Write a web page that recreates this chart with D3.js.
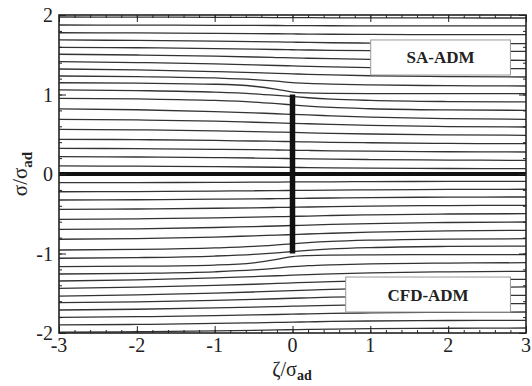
<!DOCTYPE html>
<html>
<head>
<meta charset="utf-8">
<script src="https://cdn.jsdelivr.net/npm/d3@7"></script>
<style>
  body { margin: 0; background: #fff; }
  svg { display: block; }
  svg text { font-family: "Liberation Serif", "Times New Roman", Times, serif; }
</style>
</head>
<body>
<div id="chart"></div>
<script>
var svgWidth = 532;
var svgHeight = 386;

// plot frame in pixels
var frame = { left: 59, right: 526, top: 15, bottom: 333 };

var xStations = [-3, -2, -1, -0.5, -0.2, 0, 0.2, 0.5, 1, 2, 3];

// upper half: SA-ADM streamlines (sigma/sigma_ad at each station)
var saLines = [
  [0.101, 0.098, 0.092, 0.088, 0.085, 0.083, 0.081, 0.078, 0.074, 0.069, 0.067],
  [0.218, 0.214, 0.206, 0.201, 0.197, 0.194, 0.191, 0.187, 0.182, 0.175, 0.172],
  [0.323, 0.319, 0.311, 0.306, 0.302, 0.299, 0.296, 0.292, 0.287, 0.280, 0.277],
  [0.436, 0.432, 0.422, 0.415, 0.411, 0.407, 0.404, 0.399, 0.393, 0.384, 0.381],
  [0.562, 0.556, 0.543, 0.533, 0.527, 0.523, 0.518, 0.512, 0.503, 0.491, 0.487],
  [0.688, 0.680, 0.664, 0.651, 0.643, 0.638, 0.632, 0.623, 0.611, 0.597, 0.591],
  [0.818, 0.808, 0.785, 0.769, 0.758, 0.750, 0.743, 0.731, 0.715, 0.696, 0.688],
  [0.952, 0.944, 0.925, 0.904, 0.884, 0.869, 0.854, 0.837, 0.821, 0.806, 0.801],
  [1.057, 1.049, 1.030, 1.009, 0.989, 0.974, 0.959, 0.942, 0.926, 0.911, 0.906],
  [1.148, 1.142, 1.129, 1.104, 1.065, 1.031, 1.020, 1.014, 1.011, 1.010, 1.010],
  [1.233, 1.225, 1.208, 1.188, 1.167, 1.150, 1.140, 1.130, 1.120, 1.111, 1.107],
  [1.321, 1.309, 1.289, 1.276, 1.266, 1.260, 1.254, 1.246, 1.236, 1.225, 1.220],
  [1.413, 1.402, 1.385, 1.373, 1.365, 1.360, 1.355, 1.348, 1.339, 1.329, 1.325],
  [1.506, 1.497, 1.482, 1.472, 1.465, 1.460, 1.456, 1.450, 1.442, 1.434, 1.430],
  [1.594, 1.588, 1.578, 1.571, 1.566, 1.563, 1.560, 1.556, 1.551, 1.546, 1.543],
  [1.686, 1.680, 1.671, 1.665, 1.661, 1.658, 1.655, 1.651, 1.647, 1.641, 1.639],
  [1.777, 1.774, 1.769, 1.766, 1.764, 1.762, 1.760, 1.758, 1.756, 1.753, 1.752],
  [1.874, 1.873, 1.870, 1.869, 1.868, 1.867, 1.866, 1.865, 1.864, 1.863, 1.862],
  [1.975, 1.973, 1.971, 1.969, 1.968, 1.967, 1.966, 1.965, 1.964, 1.963, 1.962]
];

// lower half: CFD-ADM streamlines
var cfdLines = [
  [-0.109, -0.108, -0.105, -0.103, -0.101, -0.100, -0.099, -0.098, -0.096, -0.093, -0.092],
  [-0.223, -0.221, -0.215, -0.211, -0.209, -0.207, -0.205, -0.202, -0.199, -0.194, -0.192],
  [-0.327, -0.324, -0.317, -0.313, -0.310, -0.307, -0.305, -0.302, -0.297, -0.291, -0.289],
  [-0.444, -0.440, -0.431, -0.425, -0.421, -0.418, -0.415, -0.410, -0.404, -0.397, -0.394],
  [-0.570, -0.564, -0.552, -0.543, -0.537, -0.533, -0.529, -0.522, -0.514, -0.503, -0.499],
  [-0.696, -0.689, -0.673, -0.661, -0.654, -0.648, -0.643, -0.634, -0.623, -0.610, -0.604],
  [-0.821, -0.812, -0.793, -0.778, -0.769, -0.762, -0.755, -0.745, -0.732, -0.715, -0.708],
  [-0.956, -0.949, -0.930, -0.911, -0.892, -0.878, -0.864, -0.848, -0.832, -0.818, -0.814],
  [-1.060, -1.052, -1.032, -1.011, -0.991, -0.975, -0.960, -0.943, -0.926, -0.911, -0.906],
  [-1.166, -1.160, -1.145, -1.118, -1.075, -1.038, -1.026, -1.020, -1.017, -1.015, -1.015],
  [-1.258, -1.249, -1.230, -1.207, -1.184, -1.164, -1.153, -1.142, -1.130, -1.120, -1.116],
  [-1.346, -1.331, -1.307, -1.291, -1.280, -1.273, -1.265, -1.256, -1.244, -1.230, -1.224],
  [-1.438, -1.424, -1.402, -1.387, -1.377, -1.370, -1.363, -1.354, -1.343, -1.331, -1.325],
  [-1.535, -1.521, -1.499, -1.484, -1.473, -1.467, -1.460, -1.451, -1.439, -1.427, -1.421],
  [-1.619, -1.608, -1.589, -1.577, -1.569, -1.563, -1.558, -1.550, -1.541, -1.531, -1.526],
  [-1.711, -1.701, -1.685, -1.675, -1.668, -1.663, -1.658, -1.652, -1.644, -1.635, -1.631],
  [-1.803, -1.795, -1.782, -1.773, -1.767, -1.763, -1.759, -1.753, -1.747, -1.739, -1.736],
  [-1.899, -1.892, -1.880, -1.872, -1.867, -1.864, -1.860, -1.855, -1.849, -1.843, -1.840],
  [-1.990, -1.984, -1.973, -1.966, -1.961, -1.958, -1.955, -1.951, -1.945, -1.940, -1.937]
];

// actuator disc and the symmetry line
var discX = [0, 0];
var discY = [-1, 1];
var axisLineX = [-3, 3];
var axisLineY = [0, 0];

var xTicks = [-3, -2, -1, 0, 1, 2, 3];
var yTicks = [-2, -1, 0, 1, 2];
var xMinorTicks = d3.range(-3, 3.001, 0.2);
var yMinorTicks = d3.range(-2, 2.001, 0.2);

// legend labels with their box corners in data units
var legendLabels = ["SA-ADM", "CFD-ADM"];
var legendBoxes = [[1.005, 2.80, 1.686, 1.245], [0.684, 2.80, -1.296, -1.736]];

var fontFamily = "'Liberation Serif', 'Times New Roman', Times, serif";

var svg = d3.select("#chart").append("svg")
  .attr("width", svgWidth)
  .attr("height", svgHeight)
  .attr("font-family", fontFamily);

var x = d3.scaleLinear().domain([-3, 3]).range([frame.left, frame.right]);
var y = d3.scaleLinear().domain([-2, 2]).range([frame.bottom, frame.top]);

svg.append("defs").append("clipPath")
  .attr("id", "plotClip")
  .append("rect")
  .attr("x", frame.left)
  .attr("y", frame.top)
  .attr("width", frame.right - frame.left)
  .attr("height", frame.bottom - frame.top);

var plot = svg.append("g").attr("clip-path", "url(#plotClip)");

var line = d3.line()
  .x(function(d, i) { return x(xStations[i]); })
  .y(function(d) { return y(d); })
  .curve(d3.curveMonotoneX);

// streamlines
plot.selectAll("path.stream")
  .data(saLines.concat(cfdLines))
  .enter()
  .append("path")
  .attr("class", "stream")
  .attr("d", line)
  .attr("fill", "none")
  .attr("stroke", "#333")
  .attr("stroke-width", 1.3);

// symmetry line and disc
plot.append("line")
  .attr("x1", x(axisLineX[0])).attr("x2", x(axisLineX[1]))
  .attr("y1", y(axisLineY[0])).attr("y2", y(axisLineY[1]))
  .attr("stroke", "#111")
  .attr("stroke-width", 4);

plot.append("line")
  .attr("x1", x(discX[0])).attr("x2", x(discX[1]))
  .attr("y1", y(discY[0])).attr("y2", y(discY[1]))
  .attr("stroke", "#111")
  .attr("stroke-width", 5.5);

// legend boxes
legendBoxes.forEach(function(b, i) {
  plot.append("rect")
    .attr("x", x(b[0]))
    .attr("y", y(b[2]))
    .attr("width", x(b[1]) - x(b[0]))
    .attr("height", y(b[3]) - y(b[2]))
    .attr("fill", "#fff")
    .attr("stroke", "#999")
    .attr("stroke-width", 1);
  svg.append("text")
    .attr("x", (x(b[0]) + x(b[1])) / 2)
    .attr("y", (y(b[2]) + y(b[3])) / 2 + 6)
    .attr("text-anchor", "middle")
    .attr("font-family", fontFamily)
    .attr("font-size", 17)
    .attr("font-weight", "bold")
    .attr("fill", "#222")
    .text(legendLabels[i]);
});

// axes: inward ticks on all four sides
var axisColor = "#222";
function addAxis(axisGen, transform, ticks, size) {
  svg.append("g")
    .attr("transform", transform)
    .call(axisGen.tickValues(ticks).tickSize(size).tickFormat(""))
    .call(function(g) { g.select(".domain").remove(); })
    .selectAll("line").attr("stroke", axisColor).attr("stroke-width", 1);
}
addAxis(d3.axisTop(x), "translate(0," + frame.bottom + ")", xMinorTicks, 3);
addAxis(d3.axisTop(x), "translate(0," + frame.bottom + ")", xTicks, 7);
addAxis(d3.axisBottom(x), "translate(0," + frame.top + ")", xMinorTicks, 3);
addAxis(d3.axisBottom(x), "translate(0," + frame.top + ")", xTicks, 7);
addAxis(d3.axisRight(y), "translate(" + frame.left + ",0)", yMinorTicks, 3);
addAxis(d3.axisRight(y), "translate(" + frame.left + ",0)", yTicks, 7);
addAxis(d3.axisLeft(y), "translate(" + frame.right + ",0)", yMinorTicks, 3);
addAxis(d3.axisLeft(y), "translate(" + frame.right + ",0)", yTicks, 7);

svg.append("rect")
  .attr("x", frame.left)
  .attr("y", frame.top)
  .attr("width", frame.right - frame.left)
  .attr("height", frame.bottom - frame.top)
  .attr("fill", "none")
  .attr("stroke", axisColor)
  .attr("stroke-width", 1.6);

// tick labels
svg.selectAll("text.xlab")
  .data(xTicks)
  .enter()
  .append("text")
  .attr("class", "xlab")
  .attr("x", function(d) { return x(d); })
  .attr("y", 352)
  .attr("text-anchor", "middle")
  .attr("font-family", fontFamily)
  .attr("font-size", 20)
  .attr("fill", "#222")
  .text(function(d) { return d; });

svg.selectAll("text.ylab")
  .data(yTicks)
  .enter()
  .append("text")
  .attr("class", "ylab")
  .attr("x", 53)
  .attr("y", function(d) { return y(d) + 7; })
  .attr("text-anchor", "end")
  .attr("font-family", fontFamily)
  .attr("font-size", 20)
  .attr("fill", "#222")
  .text(function(d) { return d; });

// axis titles
var xTitle = svg.append("text")
  .attr("x", 292)
  .attr("y", 376)
  .attr("text-anchor", "middle")
  .attr("font-family", fontFamily)
  .attr("font-size", 20)
  .attr("fill", "#222");
xTitle.append("tspan").text("ζ/σ");
xTitle.append("tspan").attr("font-size", 14).attr("font-weight", "bold").attr("dy", 4).text("ad");

var yTitle = svg.append("text")
  .attr("transform", "translate(27," + y(0) + ") rotate(-90)")
  .attr("text-anchor", "middle")
  .attr("font-family", fontFamily)
  .attr("font-size", 21)
  .attr("fill", "#222");
yTitle.append("tspan").text("σ/σ");
yTitle.append("tspan").attr("font-size", 15).attr("font-weight", "bold").attr("dy", 5).text("ad");
</script>
</body>
</html>
